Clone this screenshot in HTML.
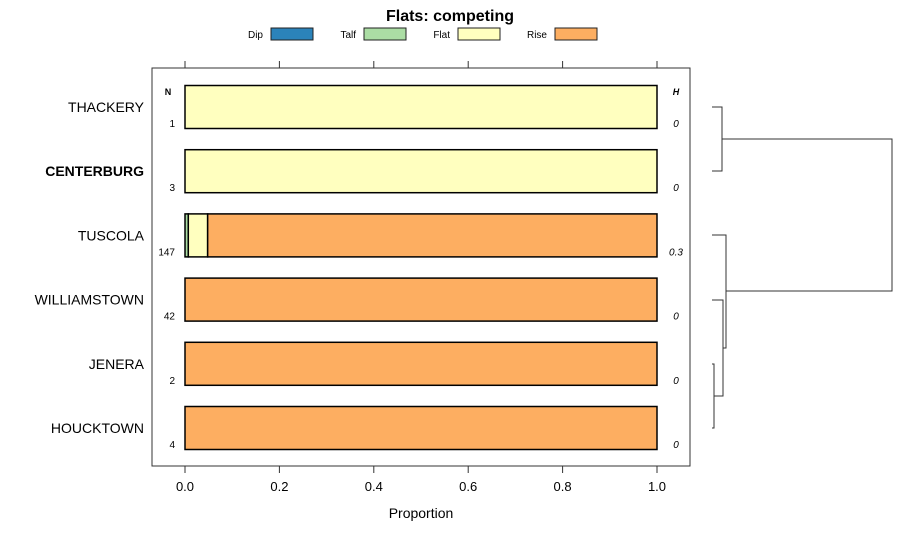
<!DOCTYPE html>
<html><head><meta charset="utf-8"><style>
body{margin:0;background:#fff}
svg{display:block;font-family:"Liberation Sans",Arial,sans-serif}
</style></head><body>
<svg id="c" width="900" height="540" viewBox="0 0 900 540">
<text x="450" y="21" text-anchor="middle" font-size="16" font-weight="bold">Flats: competing</text>
<g id="legend"></g>
<rect x="152" y="68" width="538" height="398" fill="none" stroke="#333" stroke-width="1"/>
<g id="axes"></g>
<g id="bars"></g>
<g id="dendro" fill="none" stroke="#333" stroke-width="1">
<path d="M712,107H722V171H712M722,139H892V291H726M712,235H726V348H723M712,300H723V396H714M712,364H714V428H712"/>
</g>
<text x="421" y="518" text-anchor="middle" font-size="14">Proportion</text>
<text x="168" y="95" text-anchor="middle" font-size="9" font-weight="bold">N</text>
<text x="676" y="95" text-anchor="middle" font-size="9" font-weight="bold" font-style="italic">H</text>
</svg>
<script>
const categories=["THACKERY","CENTERBURG","TUSCOLA","WILLIAMSTOWN","JENERA","HOUCKTOWN"];
const seriesNames=["Dip","Talf","Flat","Rise"];
const dip=[0,0,0,0,0,0];
const talf=[0,0,0.007,0,0,0];
const flat=[1,1,0.041,0,0,0];
const rise=[0,0,0.952,1,1,1];
const nVals=["1","3","147","42","2","4"];
const hVals=["0","0","0.3","0","0","0"];
const xTicks=[0,0.2,0.4,0.6,0.8,1.0];
const xTickLabels=["0.0","0.2","0.4","0.6","0.8","1.0"];
const colors=["#2b83ba","#abdda4","#ffffbf","#fdae61"];
const NS="http://www.w3.org/2000/svg";
const xs=v=>185+v*472;
const yc=i=>107+i*64.2;
function mk(tag,attrs,parent,text){const e=document.createElementNS(NS,tag);for(const k in attrs)e.setAttribute(k,attrs[k]);if(text!==undefined)e.textContent=text;parent.appendChild(e);return e;}
const lg=document.getElementById('legend');
const lx=[271,364,458,555];
seriesNames.forEach((s,i)=>{
 const t=mk('text',{x:lx[i]-8,y:38,'text-anchor':'end','font-size':10},lg,s);
 
 
 const r=mk('rect',{x:lx[i],y:28,width:42,height:12,fill:colors[i],stroke:'#222','stroke-width':1},lg);
 
 
});
const ax=document.getElementById('axes');
xTicks.forEach((v,i)=>{
 const a=mk('line',{x1:xs(v),x2:xs(v),y1:466,y2:473,stroke:'#333'},ax);
 
 
 const b=mk('line',{x1:xs(v),x2:xs(v),y1:61,y2:68,stroke:'#333'},ax);
 
 
 const t=mk('text',{x:xs(v),y:491,'text-anchor':'middle','font-size':13},ax,xTickLabels[i]);
 
 
});
const bg=document.getElementById('bars');
categories.forEach((c,i)=>{
 const y=yc(i);
 const t=mk('text',{x:144,y:y+5,'text-anchor':'end','font-size':14,'font-weight':c==='CENTERBURG'?'bold':'normal'},ax,c);
 
 
 let cum=0;
 [dip,talf,flat,rise].forEach((arr,k)=>{
  const v=arr[i]; if(v<=0)return;
  const r=mk('rect',{x:xs(cum),y:y-21.5,width:xs(cum+v)-xs(cum),height:43,fill:colors[k],stroke:'#000','stroke-width':1.5},bg);
  
  
  cum+=v;
 });
 const n=mk('text',{x:175,y:y+20,'text-anchor':'end','font-size':10},bg,nVals[i]);
 
 
 const h=mk('text',{x:676,y:y+20,'text-anchor':'middle','font-size':10,'font-style':'italic'},bg,hVals[i]);
 
 
});
</script>
</body></html>
